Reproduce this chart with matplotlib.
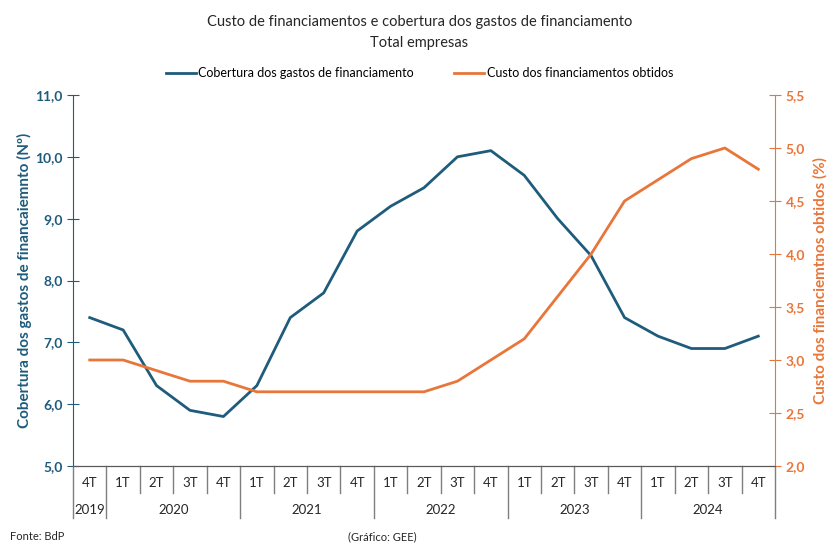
import matplotlib.pyplot as plt
from matplotlib.ticker import FuncFormatter, MultipleLocator
import matplotlib.transforms as mtransforms

plt.rcParams['font.family'] = ['Lato', 'DejaVu Sans']

# dados
quarters = ['4T', '1T', '2T', '3T', '4T', '1T', '2T', '3T', '4T', '1T', '2T',
            '3T', '4T', '1T', '2T', '3T', '4T', '1T', '2T', '3T', '4T']
years = ['2019', '2020', '2021', '2022', '2023', '2024']
year_counts = [1, 4, 4, 4, 4, 4]
cobertura = [7.4, 7.2, 6.3, 5.9, 5.8, 6.3, 7.4, 7.8, 8.8, 9.2, 9.5,
             10.0, 10.1, 9.7, 9.0, 8.4, 7.4, 7.1, 6.9, 6.9, 7.1]
custo = [3.0, 3.0, 2.9, 2.8, 2.8, 2.7, 2.7, 2.7, 2.7, 2.7, 2.7,
         2.8, 3.0, 3.2, 3.6, 4.0, 4.5, 4.7, 4.9, 5.0, 4.8]

BLUE = '#1F5C7C'
ORANGE = '#E8763A'
GREY = '#7F7F7F'

fig = plt.figure(figsize=(8.39, 5.59), dpi=100)
ax = fig.add_axes([73 / 839, 93 / 559, 702 / 839, 371 / 559])
ax2 = ax.twinx()

x = list(range(len(quarters)))
ax.plot(x, cobertura, color=BLUE, lw=2, label='Cobertura dos gastos de financiamento')
ax2.plot(x, custo, color=ORANGE, lw=2, label='Custo dos financiamentos obtidos')

ax.set_xlim(-0.5, len(quarters) - 0.5)
ax.set_ylim(5, 11)
ax2.set_ylim(2, 5.5)
ax.yaxis.set_major_locator(MultipleLocator(1))
ax2.yaxis.set_major_locator(MultipleLocator(0.5))
fmt = FuncFormatter(lambda v, p: f'{v:.1f}'.replace('.', ','))
ax.yaxis.set_major_formatter(fmt)
ax2.yaxis.set_major_formatter(fmt)

for a in (ax, ax2):
    a.spines['top'].set_visible(False)
    a.set_xticks([])
ax.spines['right'].set_visible(False)
ax2.spines['left'].set_visible(False)
ax.spines['left'].set_color(BLUE)
ax2.spines['right'].set_color(ORANGE)
ax.spines['bottom'].set_color('#595959')
ax2.spines['bottom'].set_color('#595959')

ax.tick_params(axis='y', colors=BLUE, direction='inout', length=8, labelsize=10)
ax2.tick_params(axis='y', colors=ORANGE, direction='inout', length=8, labelsize=10)
for lbl in ax.get_yticklabels():
    lbl.set_fontweight('bold')
for lbl in ax2.get_yticklabels():
    lbl.set_fontweight('bold')

ax.set_ylabel('Cobertura dos gastos de financaiemnto (Nº)', color=BLUE,
              fontsize=11, fontweight='bold', labelpad=2)
ax2.set_ylabel('Custo dos financiemtnos obtidos (%)', color=ORANGE,
               fontsize=11, fontweight='bold', labelpad=6)

# tabela de categorias no eixo x
trans = mtransforms.blended_transform_factory(ax.transData, ax.transAxes)
q_row = -0.045
y_row = -0.118
for i, q in enumerate(quarters):
    ax.text(i, q_row, q, transform=trans, ha='center', va='center',
            fontsize=9.5, color='#262626')
bounds = [0]
for c in year_counts:
    bounds.append(bounds[-1] + c)
for j, yr in enumerate(years):
    mid = (bounds[j] + bounds[j + 1]) / 2 - 0.5
    ax.text(mid, y_row, yr, transform=trans, ha='center', va='center',
            fontsize=9.5, color='#262626')
for i in range(len(quarters) + 1):
    xb = i - 0.5
    low = -0.14 if i in bounds else -0.072
    ax.plot([xb, xb], [0, low], transform=trans, color=GREY, lw=1,
            clip_on=False)

fig.text(0.5, 1 - 22 / 559, 'Custo de financiamentos e cobertura dos gastos de financiamento',
         ha='center', va='center', fontsize=10.5, color='#262626')
fig.text(0.5, 1 - 43 / 559, 'Total empresas', ha='center', va='center',
         fontsize=10.5, color='#262626')

h1, l1 = ax.get_legend_handles_labels()
h2, l2 = ax2.get_legend_handles_labels()
fig.legend(h1 + h2, l1 + l2, loc='center', bbox_to_anchor=(0.5, 1 - 73 / 559),
           ncol=2, frameon=False, fontsize=9, handlelength=2.4,
           handletextpad=0.2, columnspacing=3.2)

fig.text(10 / 839, 1 - 537 / 559, 'Fonte: BdP', fontsize=8, va='center', color='#262626')
fig.text(348 / 839, 1 - 537 / 559, '(Gráfico: GEE)', fontsize=8, va='center', color='#262626')

fig.savefig('out.png', dpi=100)
